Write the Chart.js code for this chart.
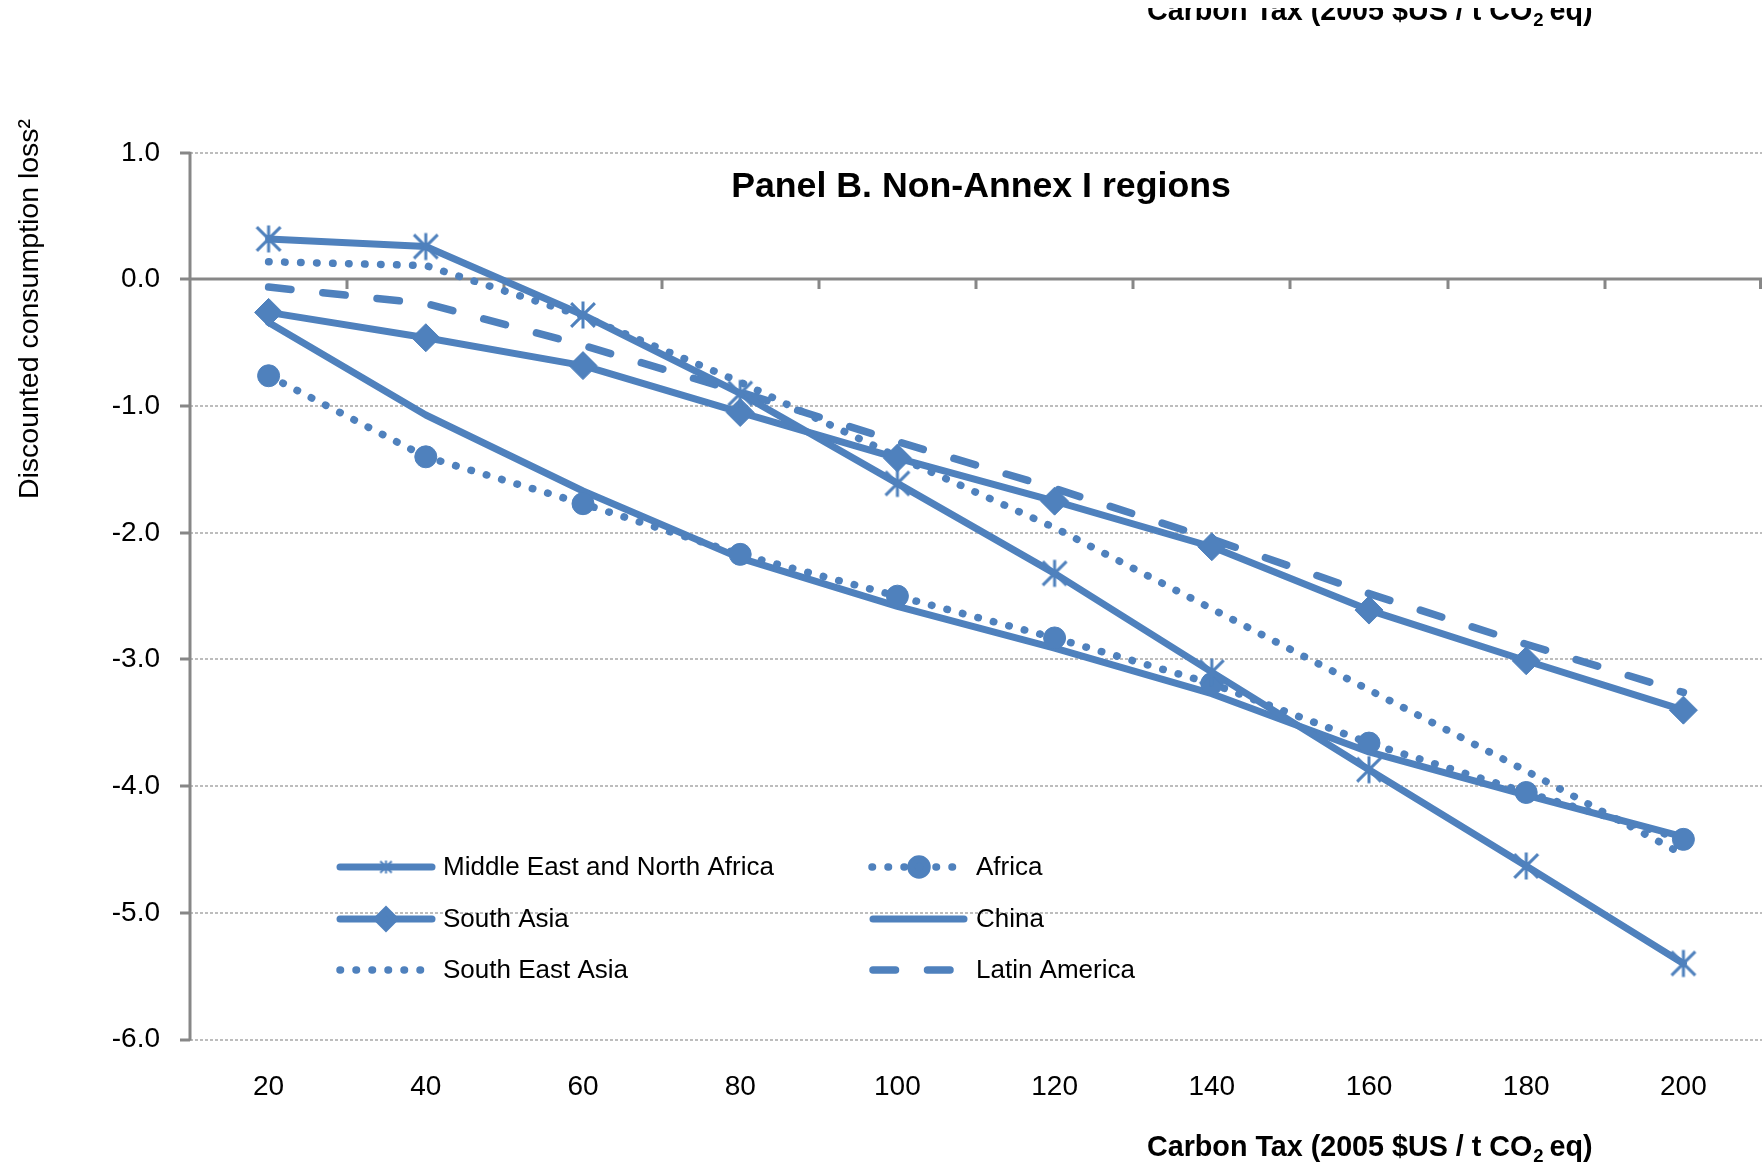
<!DOCTYPE html>
<html>
<head>
<meta charset="utf-8">
<script src="https://cdn.jsdelivr.net/npm/chart.js@4.4.1/dist/chart.umd.min.js"></script>
<style>
  html, body { margin: 0; padding: 0; background: #ffffff; }
  #wrap { width: 1762px; height: 1164px; position: relative; }
</style>
</head>
<body>
<div id="wrap"><canvas id="chart" width="1762" height="1164"></canvas></div>
<script>
// Carbon tax levels (2005 $US / t CO2 eq)
const taxLevels = ['20', '40', '60', '80', '100', '120', '140', '160', '180', '200'];

// Discounted consumption loss by region
const menaLoss         = [0.32, 0.26, -0.28, -0.90, -1.61, -2.32, -3.10, -3.87, -4.63, -5.40];
const southAsiaLoss    = [-0.26, -0.46, -0.68, -1.05, -1.41, -1.75, -2.11, -2.61, -3.01, -3.40];
const southEastAsiaLoss= [0.14, 0.11, -0.29, -0.81, -1.40, -1.96, -2.60, -3.24, -3.88, -4.54];
const africaLoss       = [-0.76, -1.40, -1.77, -2.17, -2.50, -2.83, -3.19, -3.66, -4.05, -4.42];
const chinaLoss        = [-0.34, -1.07, -1.67, -2.20, -2.58, -2.91, -3.27, -3.73, -4.07, -4.40];
const latinAmericaLoss = [-0.06, -0.19, -0.52, -0.89, -1.28, -1.65, -2.05, -2.48, -2.88, -3.26];

const regionNames = ['Middle East and North Africa', 'South Asia', 'South East Asia',
                     'Africa', 'China', 'Latin America'];

const yMin = -6, yMax = 1, yStep = 1;

const panelTitle = 'Panel B. Non-Annex I regions';
const yAxisTitle = 'Discounted consumption loss\u00B2';
const xAxisTitleParts = ['Carbon Tax (2005 $US / t CO', '2', ' eq)'];

const BLUE = '#4F81BD';
const AXIS = '#878787';
const GRID = '#BDBDBD';
const FONT = "'Liberation Sans', Arial, Helvetica, sans-serif";

// Asterisk marker: vertical stroke plus two diagonals
function makeAsterisk(r, lw) {
  const s = Math.ceil(2 * r + lw + 2);
  const c = document.createElement('canvas');
  c.width = s; c.height = s;
  const g = c.getContext('2d');
  const m = s / 2, d = r * 0.88;
  g.strokeStyle = BLUE;
  g.lineWidth = lw;
  g.beginPath();
  g.moveTo(m, m - r); g.lineTo(m, m + r);
  g.moveTo(m - d, m - d); g.lineTo(m + d, m + d);
  g.moveTo(m + d, m - d); g.lineTo(m - d, m + d);
  g.stroke();
  return c;
}
const starBig = makeAsterisk(13.5, 3);
const starSmall = makeAsterisk(6.5, 2);

const common = {
  borderColor: BLUE,
  backgroundColor: BLUE,
  pointBackgroundColor: BLUE,
  pointBorderColor: BLUE,
  borderWidth: 7,
  borderJoinStyle: 'round',
  borderCapStyle: 'round',
  tension: 0,
  fill: false
};

const datasets = [
  Object.assign({}, common, { label: regionNames[0], data: menaLoss,
    pointStyle: starBig, pointRadius: 13, pointBorderWidth: 0, legendMarker: starSmall, legendRadius: 6 }),
  Object.assign({}, common, { label: regionNames[1], data: southAsiaLoss,
    pointStyle: 'rectRot', pointRadius: 14, pointBorderWidth: 1, legendRadius: 8.5 }),
  Object.assign({}, common, { label: regionNames[2], data: southEastAsiaLoss,
    borderWidth: 7.5, borderDash: [0.5, 15.5], pointRadius: 0 }),
  Object.assign({}, common, { label: regionNames[3], data: africaLoss,
    borderWidth: 7.5, borderDash: [0.5, 15.5], pointStyle: 'circle', pointRadius: 11, pointBorderWidth: 1, legendRadius: 8 }),
  Object.assign({}, common, { label: regionNames[4], data: chinaLoss, pointRadius: 0 }),
  Object.assign({}, common, { label: regionNames[5], data: latinAmericaLoss,
    borderWidth: 7.5, borderDash: [22.5, 32], pointRadius: 0 })
];

// Axis lines, dotted gridlines and tick marks (value axis crosses at zero)
const axisFrame = {
  id: 'axisFrame',
  beforeDatasetsDraw(chart) {
    const { ctx, chartArea: a, scales: { x, y } } = chart;
    ctx.save();
    ctx.lineCap = 'butt';
    // dotted horizontal gridlines
    ctx.strokeStyle = GRID;
    ctx.lineWidth = 2;
    ctx.setLineDash([3, 2]);
    y.ticks.forEach(t => {
      if (t.value === 0) return;
      const py = Math.round(y.getPixelForValue(t.value));
      ctx.beginPath();
      ctx.moveTo(a.left, py);
      ctx.lineTo(a.right, py);
      ctx.stroke();
    });
    ctx.setLineDash([]);
    ctx.strokeStyle = AXIS;
    ctx.lineWidth = 3;
    // vertical axis with outward ticks
    ctx.beginPath();
    ctx.moveTo(a.left, a.top - 1);
    ctx.lineTo(a.left, a.bottom + 1);
    y.ticks.forEach(t => {
      const py = Math.round(y.getPixelForValue(t.value));
      ctx.moveTo(a.left - 10, py);
      ctx.lineTo(a.left, py);
    });
    ctx.stroke();
    // horizontal axis at zero with category boundary ticks
    const y0 = Math.round(y.getPixelForValue(0));
    const bin = x.getPixelForValue(1) - x.getPixelForValue(0);
    const start = x.getPixelForValue(0) - bin / 2;
    ctx.beginPath();
    ctx.moveTo(a.left, y0);
    ctx.lineTo(a.right, y0);
    for (let k = 1; k <= taxLevels.length; k++) {
      const px = Math.min(Math.round(start + k * bin), a.right - 1.5);
      ctx.moveTo(px, y0);
      ctx.lineTo(px, y0 + 10);
    }
    ctx.stroke();
    ctx.restore();
  }
};

function drawLegendSample(ctx, ds, x1, x2, yc) {
  ctx.save();
  ctx.strokeStyle = ds.borderColor;
  ctx.lineWidth = ds.borderWidth;
  ctx.lineCap = 'round';
  ctx.setLineDash(ds.borderDash || []);
  ctx.beginPath();
  ctx.moveTo(x1, yc);
  ctx.lineTo(x2, yc);
  ctx.stroke();
  ctx.setLineDash([]);
  const mx = (x1 + x2) / 2;
  if (ds.legendMarker) {
    const m = ds.legendMarker;
    ctx.drawImage(m, mx - m.width / 2, yc - m.height / 2);
  } else if (ds.pointRadius > 0) {
    ctx.fillStyle = ds.pointBackgroundColor;
    ctx.strokeStyle = ds.pointBorderColor;
    Chart.helpers.drawPoint(ctx, {
      pointStyle: ds.pointStyle, rotation: 0,
      radius: ds.legendRadius, borderWidth: ds.pointBorderWidth
    }, mx, yc);
  }
  ctx.restore();
}

function drawXTitle(ctx, left, baseline) {
  ctx.font = 'bold 28.7px ' + FONT;
  ctx.fillText(xAxisTitleParts[0], left, baseline);
  let x = left + ctx.measureText(xAxisTitleParts[0]).width;
  ctx.font = 'bold 18.5px ' + FONT;
  ctx.fillText(xAxisTitleParts[1], x + 1, baseline + 6);
  x += ctx.measureText(xAxisTitleParts[1]).width + 1;
  ctx.font = 'bold 28.7px ' + FONT;
  ctx.fillText(xAxisTitleParts[2], x - 2, baseline);
}

// Titles and in-plot legend
const annotations = {
  id: 'annotations',
  afterDraw(chart) {
    const { ctx } = chart;
    ctx.save();
    ctx.fillStyle = '#000000';
    ctx.textBaseline = 'alphabetic';

    // panel title
    ctx.font = 'bold 35.7px ' + FONT;
    ctx.textAlign = 'center';
    ctx.fillText(panelTitle, 981, 197);

    // value axis title
    ctx.save();
    ctx.translate(30, 309);
    ctx.rotate(-Math.PI / 2);
    ctx.font = '28.5px ' + FONT;
    ctx.textAlign = 'center';
    ctx.textBaseline = 'middle';
    ctx.fillText(yAxisTitle, 0, 0);
    ctx.restore();

    // category axis title
    ctx.textAlign = 'left';
    drawXTitle(ctx, 1147, 1156);

    // partially visible copy of the axis title above the plot
    ctx.save();
    ctx.beginPath();
    ctx.rect(0, 8, chart.width, 40);
    ctx.clip();
    drawXTitle(ctx, 1147, 20);
    ctx.restore();

    // legend, two columns of three entries
    const rows = [867, 919, 970];
    const cols = [
      { x1: 340, x2: 432, tx: 443 },
      { x1: 873, x2: 964, tx: 976 }
    ];
    const order = [[0, 0, 0], [1, 0, 1], [2, 0, 2], [3, 1, 0], [4, 1, 1], [5, 1, 2]];
    ctx.font = '26px ' + FONT;
    ctx.textBaseline = 'middle';
    order.forEach(([di, ci, ri]) => {
      const ds = chart.data.datasets[di];
      const c = cols[ci];
      let x1 = c.x1, x2 = c.x2;
      if (di === 3) { x1 = 872; x2 = 966; }
      drawLegendSample(ctx, ds, x1, x2, rows[ri]);
      ctx.fillStyle = '#000000';
      ctx.fillText(ds.label, c.tx, rows[ri] + 1);
    });
    ctx.restore();
  }
};

new Chart(document.getElementById('chart'), {
  type: 'line',
  data: { labels: taxLevels, datasets: datasets },
  options: {
    responsive: false,
    animation: false,
    devicePixelRatio: 1,
    layout: { autoPadding: false, padding: { top: 152.8, left: 0, right: 0, bottom: 0 } },
    plugins: { legend: { display: false }, title: { display: false }, tooltip: { enabled: false } },
    scales: {
      x: {
        type: 'category',
        offset: true,
        grid: { display: false, drawTicks: false },
        border: { display: false },
        ticks: { color: '#000000', font: { family: FONT, size: 28 }, padding: 30.5,
                 maxRotation: 0, autoSkip: false },
        afterFit(scale) {
          scale.height = 124.5;
          scale.paddingLeft = 0;
          scale.paddingRight = 0;
        }
      },
      y: {
        type: 'linear',
        min: yMin, max: yMax,
        grid: { display: false, drawTicks: false },
        border: { display: false },
        ticks: { stepSize: yStep, color: '#000000', font: { family: FONT, size: 28 }, padding: 30,
                 callback: v => Number(v).toFixed(1) },
        afterFit(scale) { scale.width = 190; }
      }
    }
  },
  plugins: [axisFrame, annotations]
});
</script>
</body>
</html>
